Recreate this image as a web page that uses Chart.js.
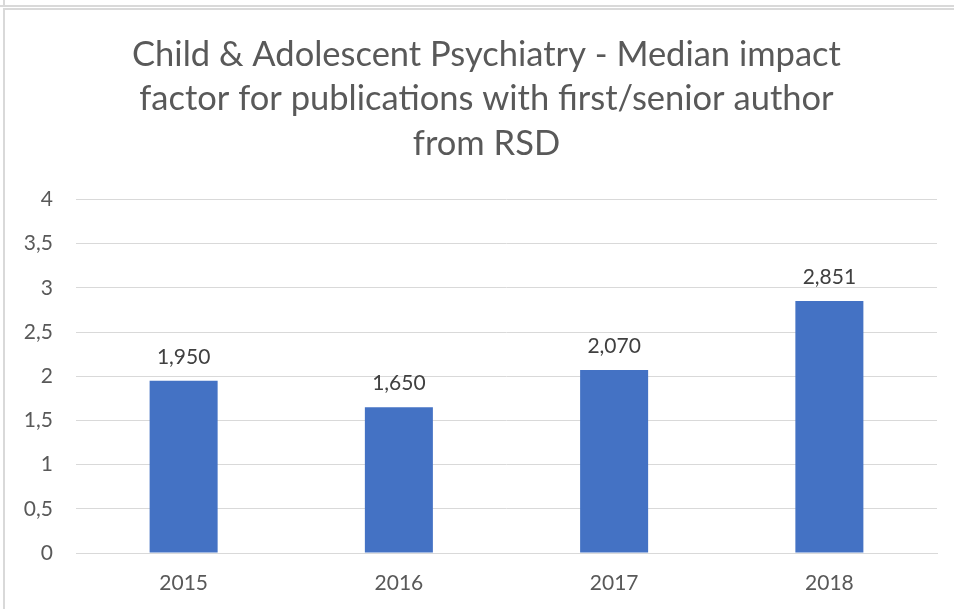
<!DOCTYPE html>
<html><head><meta charset="utf-8">
<script src="https://cdn.jsdelivr.net/npm/chart.js@4"></script>
<style>
html,body{margin:0;padding:0;background:#fff;}
#wrap{position:relative;width:954px;height:609px;overflow:hidden;}
#topline{position:absolute;left:0;top:5px;width:954px;height:0;border-top:2px solid #d9d9d9;}
#topleft{position:absolute;left:3px;top:0;width:0;height:6px;border-left:2px solid #d9d9d9;}
#box{position:absolute;left:3px;top:8px;width:960px;height:620px;border:2px solid #d9d9d9;box-sizing:border-box;}
canvas{position:absolute;left:0;top:0;}
</style></head>
<body><div id="wrap">
<div id="topline"></div><div id="topleft"></div><div id="box"></div>
<canvas id="c" width="954" height="609"></canvas>
</div>
<script>
const categories = ["2015","2016","2017","2018"];
const medianImpact = [1.950, 1.650, 2.070, 2.851];
const titleLines = ["Child & Adolescent Psychiatry - Median impact","factor for publications with first/senior author","from RSD"];
const FONT = "Lato, 'Open Sans', sans-serif";
const fmtComma = (v, d) => v.toFixed(d).replace('.', ',');

const labelPlugin = {
  id: 'barLabels',
  afterDatasetsDraw(chart) {
    const ctx = chart.ctx;
    const meta = chart.getDatasetMeta(0);
    ctx.save();
    ctx.font = "21px " + FONT;
    ctx.fillStyle = "#404040";
    ctx.textAlign = "center";
    ctx.textBaseline = "alphabetic";
    meta.data.forEach((bar, i) => {
      ctx.fillText(fmtComma(medianImpact[i], 3), bar.x, bar.y - 17);
    });
    // y tick labels from the library's scale
    const ys = chart.scales.y;
    ctx.fillStyle = "#595959";
    ctx.textAlign = "right";
    ctx.textBaseline = "middle";
    ys.ticks.forEach(t => {
      ctx.fillText(fmtComma(t.value, t.value % 1 ? 1 : 0), chart.chartArea.left - 23, ys.getPixelForValue(t.value));
    });
    ctx.restore();
  }
};

new Chart(document.getElementById('c'), {
  type: 'bar',
  data: { labels: categories, datasets: [{ data: medianImpact, backgroundColor: '#4472c4', categoryPercentage: 1, barPercentage: 0.316 }] },
  options: {
    responsive: false, animation: false,
    layout: { padding: { left: 36, right: 17, top: 10, bottom: 0 } },
    plugins: {
      legend: { display: false }, tooltip: { enabled: false },
      title: { display: true, text: titleLines, color: '#595959', font: { family: FONT, size: 34.5, weight: 'normal', lineHeight: 1.3 }, padding: { top: 22, bottom: 33 } }
    },
    scales: {
      y: {
        min: 0, max: 4,
        ticks: { stepSize: 0.5, display: false },
        grid: { color: '#d9d9d9', drawTicks: false, lineWidth: 1 },
        border: { display: false },
        afterFit(s) { s.width = 40; }
      },
      x: {
        ticks: { color: '#595959', font: { family: FONT, size: 21 }, padding: 18 },
        grid: { display: false, drawTicks: false },
        border: { display: true, color: '#d9d9d9', width: 1 },
        afterFit(s) { s.height = 56; }
      }
    }
  },
  plugins: [labelPlugin]
});
</script>
</body></html>
